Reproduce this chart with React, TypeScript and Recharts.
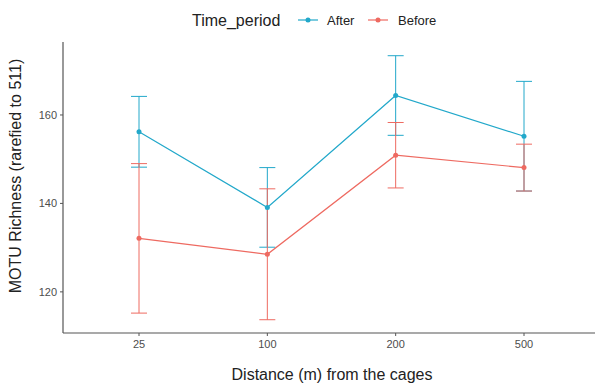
import React from 'react';
import { LineChart, Line, XAxis, YAxis, ErrorBar, Label } from 'recharts';

const distances = ['25', '100', '200', '500'];
const afterMean = [156.2, 139.1, 164.4, 155.2];
const afterErr = [8.0, 9.0, 9.0, 12.4];
const beforeMean = [132.1, 128.5, 150.9, 148.1];
const beforeErr = [16.9, 14.8, 7.4, 5.3];
const yTicks = [120, 140, 160];

const AFTER = '#22A8CA';
const BEFORE = '#EE6A61';
const FONT = '"Liberation Sans", Arial, sans-serif';

const data = distances.map((d, i) => ({
  distance: d,
  after: afterMean[i],
  afterErr: afterErr[i],
  before: beforeMean[i],
  beforeErr: beforeErr[i],
}));

function LegendBar() {
  return (
    <svg width={595} height={40} style={{ position: 'absolute', left: 0, top: 0 }}>
      <text x={192} y={26} fontSize={16} fill="#222" fontFamily={FONT}>Time_period</text>
      <line x1={298} y1={20} x2={318} y2={20} stroke={AFTER} strokeWidth={1.2} />
      <circle cx={308} cy={20} r={2.5} fill={AFTER} />
      <text x={327} y={24.5} fontSize={13} fill="#222" fontFamily={FONT}>After</text>
      <line x1={368} y1={20} x2={388} y2={20} stroke={BEFORE} strokeWidth={1.2} />
      <circle cx={378} cy={20} r={2.5} fill={BEFORE} />
      <text x={398} y={24.5} fontSize={13} fill="#222" fontFamily={FONT}>Before</text>
    </svg>
  );
}

export default function App() {
  const tickStyle = { fontSize: 11, fill: '#4D4D4D', fontFamily: FONT };
  return (
    <div style={{ position: 'absolute', left: 0, top: 0, width: 595, height: 385, overflow: 'hidden', background: '#fff' }}>
      <LineChart width={602} height={385} data={data} margin={{ top: 42, right: 1, bottom: 0, left: 0 }}>
        <XAxis
          dataKey="distance"
          height={52}
          padding={{ left: 76, right: 77 }}
          tick={tickStyle}
          tickSize={3}
          tickMargin={4}
          stroke="#555"
          axisLine={{ stroke: '#555', strokeWidth: 1.2 }}
        >
          <Label
            content={() => (
              <text x={332} y={380} textAnchor="middle" fontSize={16} fill="#222" fontFamily={FONT}>
                Distance (m) from the cages
              </text>
            )}
          />
        </XAxis>
        <YAxis
          width={63}
          type="number"
          domain={[110.7, 176.5]}
          ticks={yTicks}
          allowDataOverflow
          tick={tickStyle}
          tickSize={3}
          tickMargin={3}
          stroke="#555"
          axisLine={{ stroke: '#555', strokeWidth: 1.2 }}
        >
          <Label
            content={() => (
              <text
                x={15}
                y={176}
                transform="rotate(-90 15 176)"
                textAnchor="middle"
                dominantBaseline="central"
                fontSize={16}
                fill="#222"
                fontFamily={FONT}
              >
                MOTU Richness (rarefied to 511)
              </text>
            )}
          />
        </YAxis>
        <Line
          dataKey="after"
          stroke={AFTER}
          strokeWidth={1.2}
          dot={{ r: 2.5, fill: AFTER, stroke: 'none' }}
          activeDot={false}
          isAnimationActive={false}
        >
          <ErrorBar dataKey="afterErr" width={8} stroke={AFTER} strokeWidth={1} direction="y" isAnimationActive={false} />
        </Line>
        <Line
          dataKey="before"
          stroke={BEFORE}
          strokeWidth={1.2}
          dot={{ r: 2.5, fill: BEFORE, stroke: 'none' }}
          activeDot={false}
          isAnimationActive={false}
        >
          <ErrorBar dataKey="beforeErr" width={8} stroke={BEFORE} strokeWidth={1} direction="y" isAnimationActive={false} />
        </Line>
      </LineChart>
      <LegendBar />
    </div>
  );
}
